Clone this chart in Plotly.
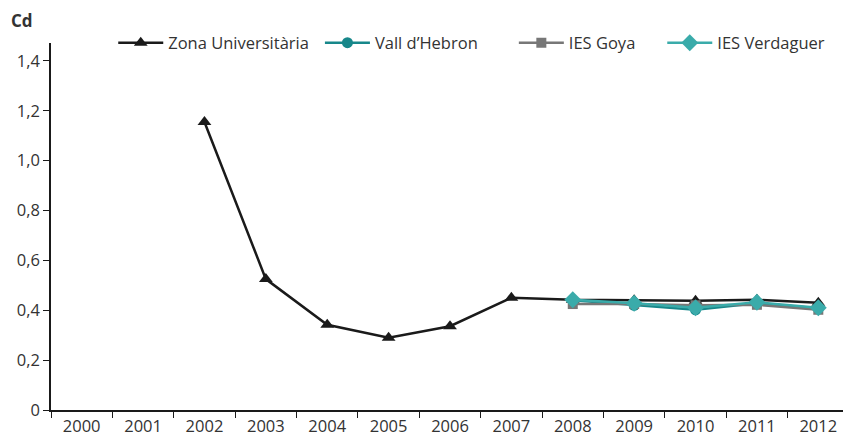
import plotly.graph_objects as go

years = [str(y) for y in range(2000, 2013)]

zona = [None, None, 1.155, 0.525, 0.342, 0.290, 0.336, 0.450, 0.442, 0.440, 0.438, 0.442, 0.430]
vall = [None] * 8 + [0.440, 0.420, 0.402, 0.428, 0.408]
goya = [None] * 8 + [0.425, 0.425, 0.420, 0.422, 0.402]
verdaguer = [None] * 8 + [0.442, 0.428, 0.410, 0.432, 0.410]

ytick_vals = [0, 0.2, 0.4, 0.6, 0.8, 1.0, 1.2, 1.4]
ytick_text = ["0", "0,2", "0,4", "0,6", "0,8", "1,0", "1,2", "1,4"]

fig = go.Figure()
fig.add_trace(go.Scatter(x=years, y=zona, name="Zona Universitària", mode="lines+markers",
                         line=dict(color="#1a1a1a", width=2.5), legend="legend",
                         marker=dict(symbol="triangle-up", size=12, color="#1a1a1a")))
fig.add_trace(go.Scatter(x=years, y=vall, name="Vall d’Hebron", mode="lines+markers",
                         line=dict(color="#17878a", width=2.5), legend="legend2",
                         marker=dict(symbol="circle", size=11, color="#17878a")))
fig.add_trace(go.Scatter(x=years, y=goya, name="IES Goya", mode="lines+markers",
                         line=dict(color="#777777", width=2.5), legend="legend3",
                         marker=dict(symbol="square", size=10, color="#777777")))
fig.add_trace(go.Scatter(x=years, y=verdaguer, name="IES Verdaguer", mode="lines+markers",
                         line=dict(color="#3aabaa", width=2.5), legend="legend4",
                         marker=dict(symbol="diamond", size=13, color="#3aabaa")))


def leg(x):
    return dict(orientation="h", x=x, xanchor="left", y=1.0, yanchor="middle",
                font=dict(size=16.5, color="#333333"), bgcolor="rgba(0,0,0,0)",
                itemwidth=45)


# the page body has an 8px margin, so the figure is shrunk and shifted to compensate
fig.update_layout(
    width=843, height=433,
    margin=dict(l=43, r=2, t=35, b=31),
    paper_bgcolor="white", plot_bgcolor="white",
    font=dict(family="Open Sans", size=16.5, color="#333333"),
    showlegend=True,
    legend=leg(0.078), legend2=leg(0.337), legend3=leg(0.580), legend4=leg(0.766),
    annotations=[dict(text="<b>Cd</b>", x=0, y=1, xref="paper", yref="paper",
                      xanchor="left", yanchor="middle", xshift=-41, yshift=23,
                      borderpad=0, showarrow=False, font=dict(size=17, color="#333333"))],
)

fig.update_xaxes(type="category", tickson="boundaries", ticks="outside", ticklen=6,
                 tickcolor="#1a1a1a", showline=True, linecolor="#1a1a1a", linewidth=1.5,
                 showgrid=False, zeroline=False, range=[-0.5, 12.5], automargin=False)
fig.update_yaxes(range=[0, 1.472], tickvals=ytick_vals, ticktext=ytick_text, ticks="outside",
                 ticklen=6, tickcolor="#1a1a1a", showline=True, linecolor="#1a1a1a",
                 linewidth=1.5, showgrid=False, zeroline=False, automargin=False)

fig.write_html("out.html")
